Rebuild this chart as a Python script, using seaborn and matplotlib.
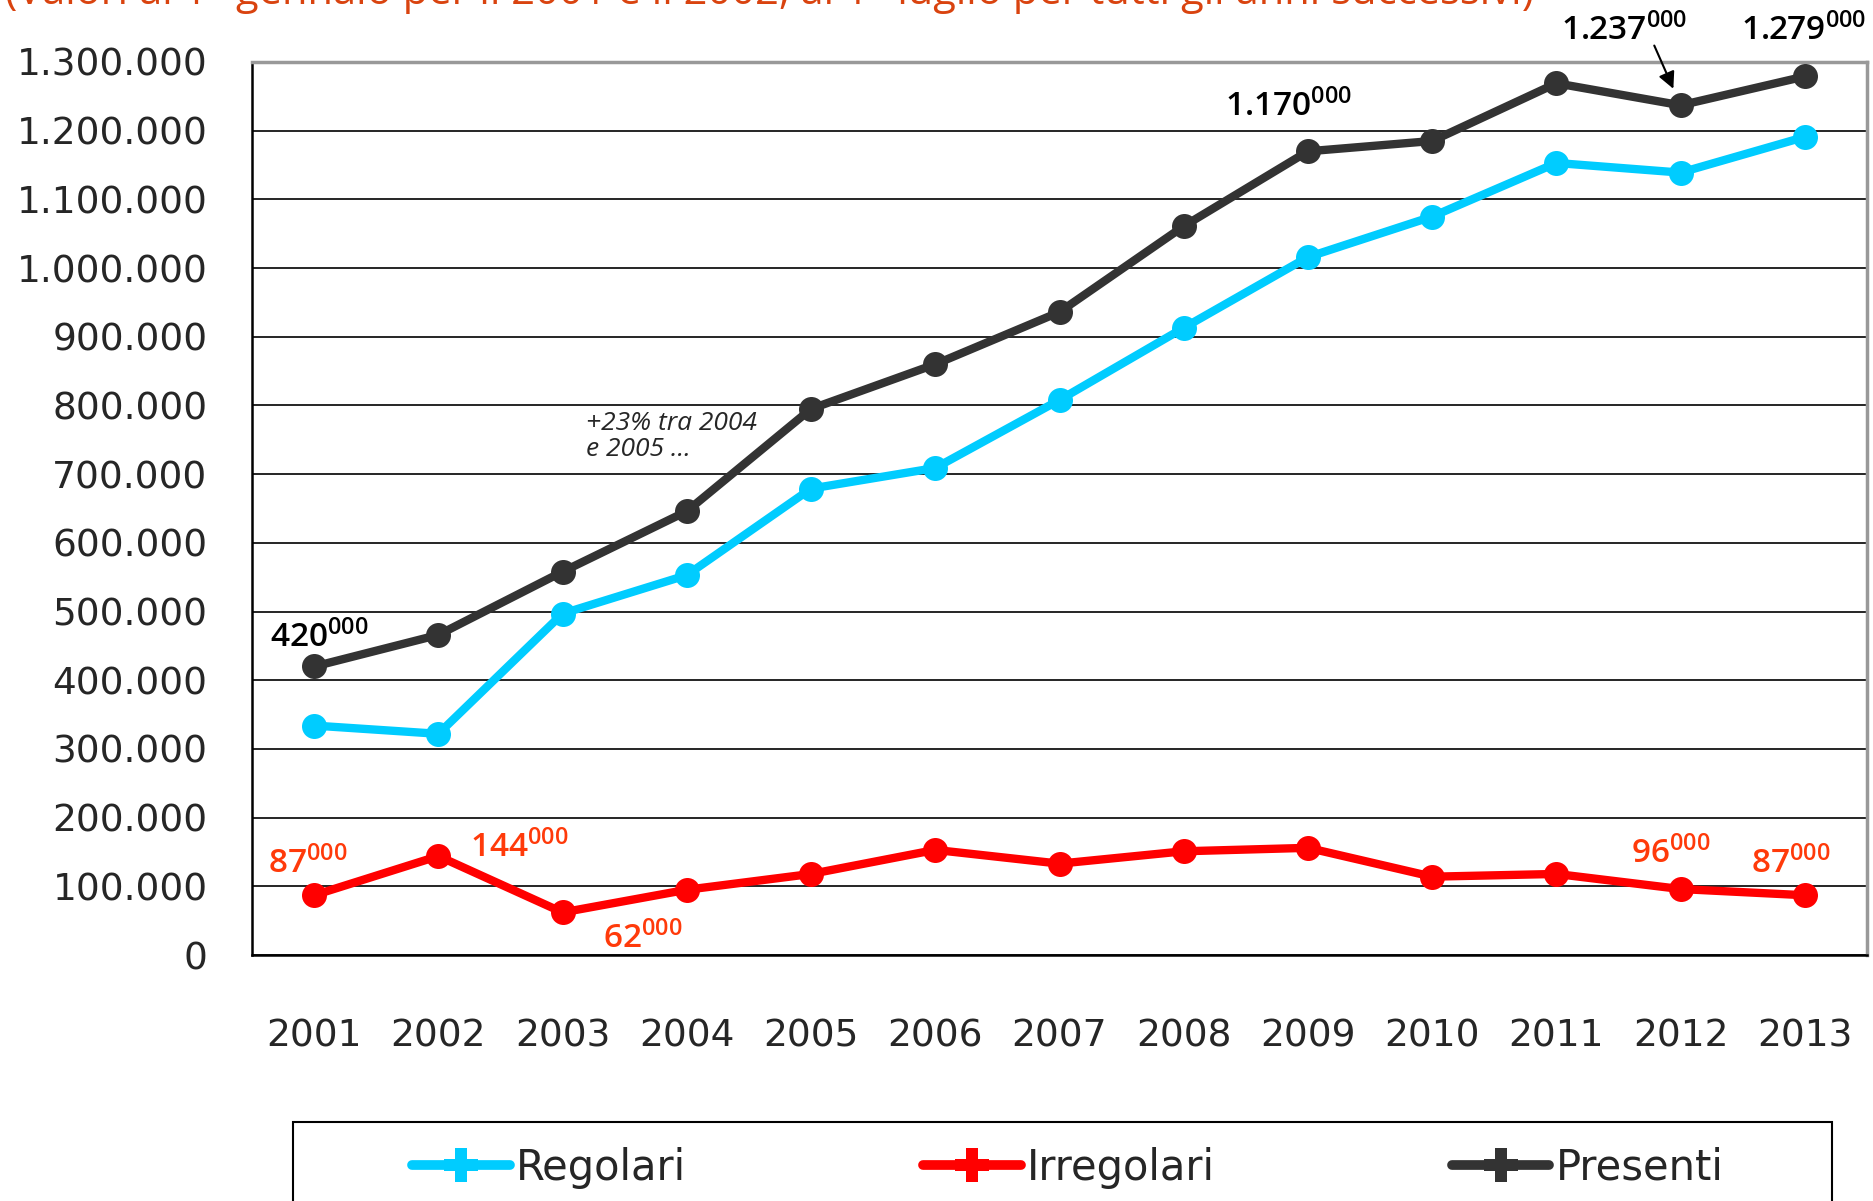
import numpy as np
import pandas as pd
import seaborn as sns
import matplotlib.pyplot as plt
from matplotlib.lines import Line2D
from matplotlib.patches import Rectangle
from matplotlib.ticker import FuncFormatter, FixedLocator

# dati (migliaia -> unita')
anni = [2001, 2002, 2003, 2004, 2005, 2006, 2007, 2008, 2009, 2010, 2011, 2012, 2013]
regolari = [334000, 322000, 497000, 553000, 679000, 709000, 808000, 913000, 1016000, 1075000, 1153000, 1139000, 1191000]
irregolari = [87000, 144000, 62000, 95000, 118000, 153000, 133000, 151000, 156000, 114000, 118000, 96000, 87000]
presenti = [420000, 466000, 558000, 646000, 795000, 860000, 936000, 1061000, 1170000, 1185000, 1269000, 1237000, 1279000]

serie = ['Regolari', 'Irregolari', 'Presenti']
colori = {'Regolari': '#00CCFF', 'Irregolari': '#FF0000', 'Presenti': '#333333'}

df = pd.DataFrame({'anno': anni * 3,
                   'valore': regolari + irregolari + presenti,
                   'serie': [s for s in serie for _ in anni]})

sns.set_style('white')
plt.rcParams['font.family'] = ['DejaVu Sans']

fig = plt.figure(figsize=(18.74, 12.01), dpi=100)
ax = fig.add_axes([252 / 1874, 1 - 955 / 1201, 1615 / 1874, 893 / 1201])

sns.lineplot(data=df, x='anno', y='valore', hue='serie', hue_order=serie,
             palette=colori, marker='o', markersize=18, markeredgewidth=0,
             linewidth=6, legend=False, ax=ax, zorder=3)

ax.set_xlim(anni[0] - 0.5, anni[-1] + 0.5)
ax.set_ylim(0, 1300000)
ax.set_yticks(np.arange(0, 1300001, 100000))
ax.yaxis.set_major_formatter(FuncFormatter(lambda v, p: f"{v:,.0f}".replace(',', '.')))
ax.set_xticks(anni)
ax.set_xticklabels([str(a) for a in anni])
ax.xaxis.set_minor_locator(FixedLocator([a - 0.5 for a in anni] + [anni[-1] + 0.5]))
ax.set_xlabel('')
ax.set_ylabel('')

ax.tick_params(axis='y', which='major', direction='out', length=13, width=1.5,
               color='black', labelsize=27, pad=19)
ax.tick_params(axis='x', which='major', length=0, labelsize=27, pad=46)
ax.tick_params(axis='x', which='minor', direction='out', length=12, width=1.5, color='black')

ax.yaxis.grid(True, color='black', linewidth=1.2)
ax.set_axisbelow(True)
for s in ['left', 'bottom']:
    ax.spines[s].set_color('black')
    ax.spines[s].set_linewidth(1.8)
for s in ['top', 'right']:
    ax.spines[s].set_color('#999999')
    ax.spines[s].set_linewidth(2.5)

# etichette valori
def etichetta(v):
    txt = f"{v:,.0f}".replace(',', '.')
    return r"$\mathregular{" + txt[:-4] + "^{000}}$"

nero = 'black'
rosso = '#FF3A0A'
note = [
    (presenti, 0, (-32, 14), nero),
    (presenti, 8, (-60, 25), nero),
    (presenti, 11, (-86, 47), nero),
    (presenti, 12, (-46, 26), nero),
    (irregolari, 0, (-33, 16), rosso),
    (irregolari, 1, (23, -1), rosso),
    (irregolari, 2, (29, -26), rosso),
    (irregolari, 11, (-36, 19), rosso),
    (irregolari, 12, (-39, 16), rosso),
]
for valori, i, off, col in note:
    ax.annotate(etichetta(valori[i]), xy=(anni[i], valori[i]), xytext=off,
                textcoords='offset points', ha='left', va='baseline',
                fontsize=24, fontweight='semibold', color=col, family='Open Sans', zorder=5)

ax.annotate('', xy=(anni[11], presenti[11]), xytext=(-19, 43), textcoords='offset points',
            arrowprops=dict(arrowstyle='-|>', color='black', lw=1.5,
                            shrinkA=0, shrinkB=13, mutation_scale=25))

ax.text(0.207, 0.609, '+23% tra 2004\ne 2005 ...', transform=ax.transAxes,
        ha='left', va='top', fontsize=19, style='italic', fontweight='medium',
        family='Open Sans', linespacing=1.05)

# titolo tagliato in alto
fig.text(5 / 1874, 1 - 4 / 1201,
         '(Valori al 1° gennaio per il 2001 e il 2002, al 1° luglio per tutti gli anni successivi)',
         ha='left', va='baseline', fontsize=30, color='#D9430F', family='Open Sans')

# legenda
handles = [Line2D([], [], color=colori[s], lw=7, marker='P', markersize=24,
                  markeredgewidth=0) for s in serie]
fig.legend(handles, serie, loc='center', bbox_to_anchor=(1068 / 1874, 1 - 1168 / 1201),
           ncol=3, frameon=False, fontsize=30, handlelength=2.33, handletextpad=0.15,
           columnspacing=5.7)
fig.patches.append(Rectangle((293 / 1874, -0.05), (1832 - 293) / 1874,
                             (1201 - 1122) / 1201 + 0.05, transform=fig.transFigure,
                             fill=False, edgecolor='black', lw=1.5))

fig.savefig('out.png', dpi=100)
